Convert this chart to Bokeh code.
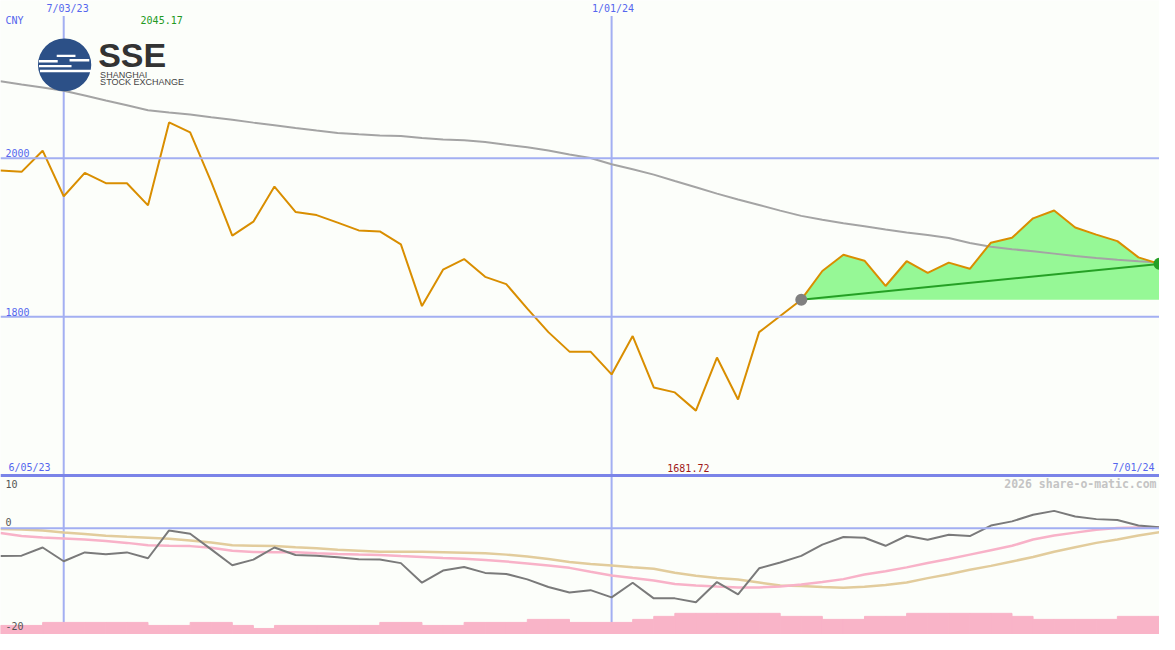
import pandas as pd
from bokeh.plotting import figure
from bokeh.models import Range1d, Span, Label, BoxAnnotation
from bokeh.embed import file_html
from bokeh.resources import INLINE

# ---------------- data ----------------
start_date = "2023-06-12"
n_weeks = 56

price = [1984.5, 1982.8, 2009.5, 1952.0, 1981.5, 1968.5, 1968.5, 1940.6, 2045.17, 2032.5,
         1970.1, 1902.5, 1920.0, 1964.3, 1932.3, 1928.3, 1918.8, 1909.0, 1907.7, 1891.4,
         1813.5, 1859.4, 1872.9, 1850.4, 1841.3, 1810.3, 1780.7, 1756.1, 1756.1, 1727.4,
         1775.8, 1710.9, 1704.7, 1681.72, 1748.7, 1695.8, 1780.7, 1801.0, 1821.6, 1857.8,
         1878.2, 1870.8, 1838.9, 1870.1, 1855.4, 1868.4, 1860.6, 1893.5, 1899.6, 1924.2,
         1934.1, 1912.7, 1903.7, 1895.5, 1875.0, 1866.8]

long_ma = [2097.2, 2093.1, 2089.1, 2085.0, 2079.0, 2072.8, 2066.7, 2060.6, 2057.6, 2055.2,
           2051.8, 2048.5, 2044.9, 2041.5, 2038.0, 2034.9, 2031.9, 2030.3, 2028.8, 2028.0,
           2025.6, 2023.6, 2022.8, 2020.4, 2016.9, 2013.7, 2009.7, 2004.6, 2000.2, 1992.3,
           1986.1, 1979.3, 1971.3, 1963.4, 1955.4, 1948.0, 1941.0, 1933.9, 1927.3, 1922.4,
           1918.0, 1914.2, 1910.1, 1906.4, 1903.1, 1899.4, 1893.2, 1888.3, 1885.2, 1882.8,
           1879.7, 1876.6, 1874.2, 1872.0, 1870.1, 1868.6]

osc = [-5.21, -5.16, -3.63, -6.21, -4.55, -4.92, -4.55, -5.65, -0.42, -1.05,
       -3.99, -6.96, -5.91, -3.63, -5.03, -5.16, -5.47, -5.84, -5.89, -6.57,
       -10.26, -7.97, -7.31, -8.41, -8.60, -9.63, -11.05, -12.10, -11.66, -13.02,
       -10.26, -13.20, -13.20, -13.94, -10.13, -12.47, -7.55, -6.45, -5.21, -3.08,
       -1.66, -1.79, -3.31, -1.42, -2.16, -1.23, -1.47, 0.50, 1.29, 2.52,
       3.26, 2.21, 1.71, 1.53, 0.50, 0.18]

osc_fast = [-0.92, -1.47, -1.75, -1.93, -2.12, -2.39, -2.76, -3.22, -3.31, -3.37,
            -3.68, -4.24, -4.47, -4.51, -4.51, -4.70, -4.84, -4.94, -5.03, -5.25,
            -5.43, -5.62, -5.76, -5.98, -6.26, -6.63, -7.00, -7.46, -8.20, -8.90,
            -9.39, -9.85, -10.50, -10.77, -10.96, -11.14, -11.14, -10.96, -10.59, -10.13,
            -9.58, -8.71, -8.10, -7.37, -6.54, -5.80, -4.97, -4.14, -3.31, -2.12,
            -1.38, -0.83, -0.28, 0.06, 0.13, 0.18]

osc_slow = [-0.13, -0.24, -0.42, -0.79, -1.10, -1.41, -1.62, -1.80, -1.99, -2.30,
            -2.67, -3.19, -3.28, -3.37, -3.59, -3.78, -4.05, -4.24, -4.42, -4.42,
            -4.42, -4.51, -4.60, -4.70, -4.97, -5.34, -5.80, -6.35, -6.72, -7.00,
            -7.33, -7.64, -8.38, -8.93, -9.39, -9.67, -10.22, -10.77, -10.87, -11.05,
            -11.18, -11.00, -10.68, -10.22, -9.39, -8.66, -7.83, -7.09, -6.26, -5.43,
            -4.42, -3.59, -2.76, -2.12, -1.38, -0.74]

volume = [3, 3, 4, 4, 4, 4, 4, 3, 3, 4,
          4, 3, 2, 3, 3, 3, 3, 3, 4, 4,
          3, 3, 4, 4, 4, 5, 5, 4, 4, 4,
          5, 6, 7, 7, 7, 7, 7, 6, 6, 5,
          5, 6, 6, 7, 7, 7, 7, 7, 6, 5,
          5, 5, 5, 6, 6]

trend_start = 38
price_ticks = [2000, 1800]
osc_ticks = [10, 0, -20]
date_ticks = ["2023-07-03", "2024-01-01"]
date_tick_labels = ["7/03/23", "1/01/24"]

# ---------------- styling ----------------
W, H = 1159, 634
BG = "#fcfefa"
GRID = "#a3aff2"
SEP = "#7a84e8"
BLUE_TXT = "#5566ee"
PRICE_C = "#d98e00"
MA_C = "#a4a4a4"
OSC_C = "#7a7a7a"
FAST_C = "#f8b2c8"
SLOW_C = "#e2cc9c"
VOL_C = "#f9b4c8"
FILL_C = "#96f896"
TREND_C = "#25a025"
MONO = "DejaVu Sans Mono"
SANS = "Liberation Sans"

dates = pd.date_range(start_date, periods=n_weeks, freq="7D")
x0 = dates[0].value / 1e6
x1 = dates[-1].value / 1e6
T, B = 2198.9, 1399.4          # price range covering the whole canvas

p = figure(width=W, height=H, x_axis_type="datetime",
           x_range=Range1d(x0, x1), y_range=Range1d(B, T),
           output_backend="svg", toolbar_location=None,
           x_axis_location=None, y_axis_location=None, min_border=0,
           background_fill_color=BG, border_fill_color=BG, outline_line_color=None)
p.grid.visible = False
p.extra_y_ranges = {"osc": Range1d(-20, 99.3), "vol": Range1d(0, 209.7)}


def X(px):
    return x0 + px / 1175.0 * (x1 - x0)


def Y(py):
    return T - py / 650.0 * (T - B)


# grid lines
for v in price_ticks:
    p.add_layout(Span(location=v, dimension="width", line_color=GRID, line_width=2))
p.add_layout(Span(location=0, dimension="width", y_range_name="osc", line_color=GRID, line_width=2))
for d in date_ticks:
    p.segment(x0=[pd.Timestamp(d)], x1=[pd.Timestamp(d)], y0=[B], y1=[Y(16)],
              line_color=GRID, line_width=2)
p.add_layout(Span(location=1600, dimension="width", line_color=SEP, line_width=3))

# volume bars
p.quad(left=dates[:-1], right=dates[1:], bottom=0, top=volume, y_range_name="vol",
       fill_color=VOL_C, line_color=VOL_C, line_width=1)

# oscillator lines
p.line(dates, osc_slow, y_range_name="osc", line_color=SLOW_C, line_width=2.5)
p.line(dates, osc_fast, y_range_name="osc", line_color=FAST_C, line_width=2.5)
p.line(dates, osc, y_range_name="osc", line_color=OSC_C, line_width=2)

# trend fill
p.varea(x=dates[trend_start:], y1=price[trend_start], y2=price[trend_start:],
        fill_color=FILL_C)

# long moving average and price
p.line(dates, long_ma, line_color=MA_C, line_width=2)
p.line(dates, price, line_color=PRICE_C, line_width=2)

# trend line and markers
p.line([dates[trend_start], dates[-1]], [price[trend_start], price[-1]],
       line_color=TREND_C, line_width=2)
p.scatter([dates[trend_start]], [price[trend_start]], size=12, fill_color="#808080", line_color=None)
p.scatter([dates[-1]], [price[-1]], size=12, fill_color=TREND_C, line_color=None)


def lab(text, px, py, color, size="10px", align="left", bold=False, font=MONO):
    p.add_layout(Label(x=X(px), y=Y(py), text=text, text_color=color, text_font=font,
                       text_font_size=size, text_align=align, text_baseline="middle",
                       text_font_style="bold" if bold else "normal"))


# texts
lab("CNY", 5, 20, BLUE_TXT)
lab(date_tick_labels[0], 68, 8, BLUE_TXT, align="center")
lab(date_tick_labels[1], 621, 8, BLUE_TXT, align="center")
lab("%.2f" % max(price), 142, 20, "#229922")
lab("%.2f" % min(price), 676, 479, "#a01818")
lab("6/05/23", 8, 479, BLUE_TXT)
lab("7/01/24", 1170, 479, BLUE_TXT, align="right")
lab(str(price_ticks[0]), 5, 156, BLUE_TXT)
lab(str(price_ticks[1]), 5, 319, BLUE_TXT)
lab(str(osc_ticks[0]), 5, 496, "#555555")
lab(str(osc_ticks[1]), 5, 535, "#555555")
lab(str(osc_ticks[2]), 5, 641, "#555555")
lab("2026 share-o-matic.com", 1172, 496, "#c4c4c4", size="11.5px", align="right", bold=True)

# SSE logo
p.add_layout(BoxAnnotation(left=X(38), right=X(92), top=Y(39), bottom=Y(93),
                           fill_color="#2c5087", fill_alpha=1, line_color=None,
                           border_radius=27))
for (l, r, t, b) in [(39, 58, 61, 63.5), (39, 72, 66, 68.5), (40, 92, 71, 73.5)]:
    p.add_layout(BoxAnnotation(left=X(l), right=X(r), top=Y(t), bottom=Y(b),
                               fill_color="white", fill_alpha=1, line_color=None))
for (l, r, t, b) in [(57, 76, 55.5, 58), (70, 90, 60, 62.5)]:
    p.add_layout(BoxAnnotation(left=X(l), right=X(r), top=Y(t), bottom=Y(b),
                               fill_color="white", fill_alpha=1, line_color=None))
lab("SSE", 99, 56, "#333333", size="34px", bold=True, font=SANS)
lab("SHANGHAI", 101, 76, "#444444", size="9px", font=SANS)
lab("STOCK EXCHANGE", 101, 84, "#444444", size="9px", font=SANS)

open("out.html", "w").write(file_html(p, INLINE))
